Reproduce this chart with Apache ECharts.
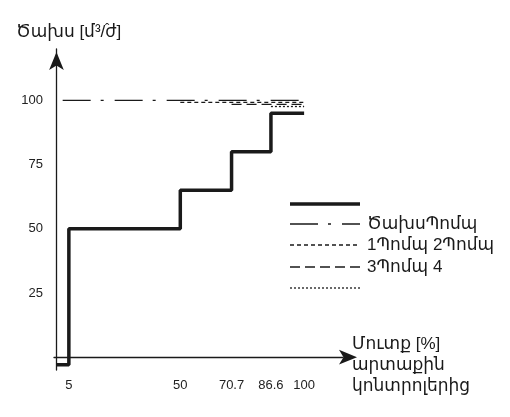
<!DOCTYPE html>
<html><head><meta charset="utf-8">
<script src="https://cdn.jsdelivr.net/npm/echarts@6/dist/echarts.min.js"></script>
<style>html,body{margin:0;padding:0;background:#fff}#c{width:510px;height:417px}</style>
</head><body><div id="c"></div>
<script>
const FONT = '"Liberation Sans", Arial, "DejaVu Sans", "Noto Sans", sans-serif';
// data
const xTickLabels = [5, 50, 70.7, 86.6, 100];
const yTickLabels = [25, 50, 75, 100];
const totalX = [0, 5, 5, 50, 50, 70.7, 70.7, 86.6, 86.6, 100];
const totalY = [-3, -3, 50, 50, 65, 65, 80, 80, 95, 95];
const pumpTotalX = [2.5, 100];
const pumpTotalY = [100, 100];
const pump12X = [50, 100];
const pump12Y = [99.2, 99.2];
const pump34X = [70.7, 100];
const pump34Y = [98.4, 98.4];
const pump5X = [86.6, 100];
const pump5Y = [97.6, 97.6];
const legendLabels = ['ԾախսՊոմպ', '1Պոմպ 2Պոմպ', '3Պոմպ 4'];
const yName = 'Ծախս [մ³/ժ]';
const xName = 'Մուտք [%]\nարտաքին\nկոնտրոլերից';

const zip = (a, b) => a.map((v, i) => [v, b[i]]);
const styles = [
  {width: 3.5, type: 'solid'},
  {width: 1.3, type: [28, 10, 3, 11]},
  {width: 1.3, type: [4, 3]},
  {width: 1.3, type: [10, 5]},
  {width: 1.3, type: [2, 2]}
];
const seriesData = [
  zip(totalX, totalY), zip(pumpTotalX, pumpTotalY), zip(pump12X, pump12Y),
  zip(pump34X, pump34Y), zip(pump5X, pump5Y)
];
const chart = echarts.init(document.getElementById('c'));
const legendY = [204, 224, 245, 267, 288];
const graphics = [];
styles.forEach((s, i) => {
  graphics.push({type: 'line', shape: {x1: 290, y1: legendY[i], x2: 360, y2: legendY[i]},
    style: {stroke: '#1a1a1a', lineWidth: s.width, lineDash: s.type === 'solid' ? null : s.type}});
});
legendLabels.forEach((t, i) => {
  graphics.push({type: 'text', x: 367, y: legendY[i + 1], style: {text: t, font: '17px ' + FONT, fill: '#1a1a1a', verticalAlign: 'middle'}});
});
graphics.push({type: 'text', x: 16, y: 32, style: {text: yName, font: '17px ' + FONT, fill: '#1a1a1a', verticalAlign: 'middle'}});
graphics.push({type: 'text', x: 105, y: 29, style: {text: 'ˆ', font: '13px ' + FONT, fill: '#1a1a1a', verticalAlign: 'middle'}});
graphics.push({type: 'text', x: 352, y: 365, style: {text: xName, font: '17px ' + FONT, fill: '#1a1a1a', verticalAlign: 'middle', lineHeight: 21}});

chart.setOption({
  animation: false,
  grid: {left: 54, right: 167, top: 49, bottom: 47, containLabel: false},
  xAxis: {type: 'value', min: -1, max: 115.7,
    axisLine: {show: true, lineStyle: {color: '#1a1a1a', width: 1.3}, symbol: ['none', 'arrow'], symbolSize: [11, 18], symbolOffset: [0, 14]},
    axisTick: {show: false}, splitLine: {show: false},
    axisLabel: {customValues: xTickLabels, color: '#222', fontSize: 13, fontFamily: FONT, margin: 9, formatter: v => String(v)}},
  yAxis: {type: 'value', min: -5, max: 120,
    axisLine: {show: true, lineStyle: {color: '#1a1a1a', width: 1.3}, symbol: ['none', 'arrow'], symbolSize: [11, 18], symbolOffset: [0, -3]},
    axisTick: {show: false}, splitLine: {show: false},
    axisLabel: {customValues: yTickLabels, color: '#222', fontSize: 13, fontFamily: FONT, margin: 11, formatter: v => String(v)}},
  series: seriesData.map((d, i) => ({type: 'line', data: d, symbol: 'none', silent: true,
    lineStyle: {color: '#1a1a1a', width: styles[i].width, type: styles[i].type, cap: 'butt'}, z: 5 - i})),
  graphic: graphics
});
</script></body></html>
